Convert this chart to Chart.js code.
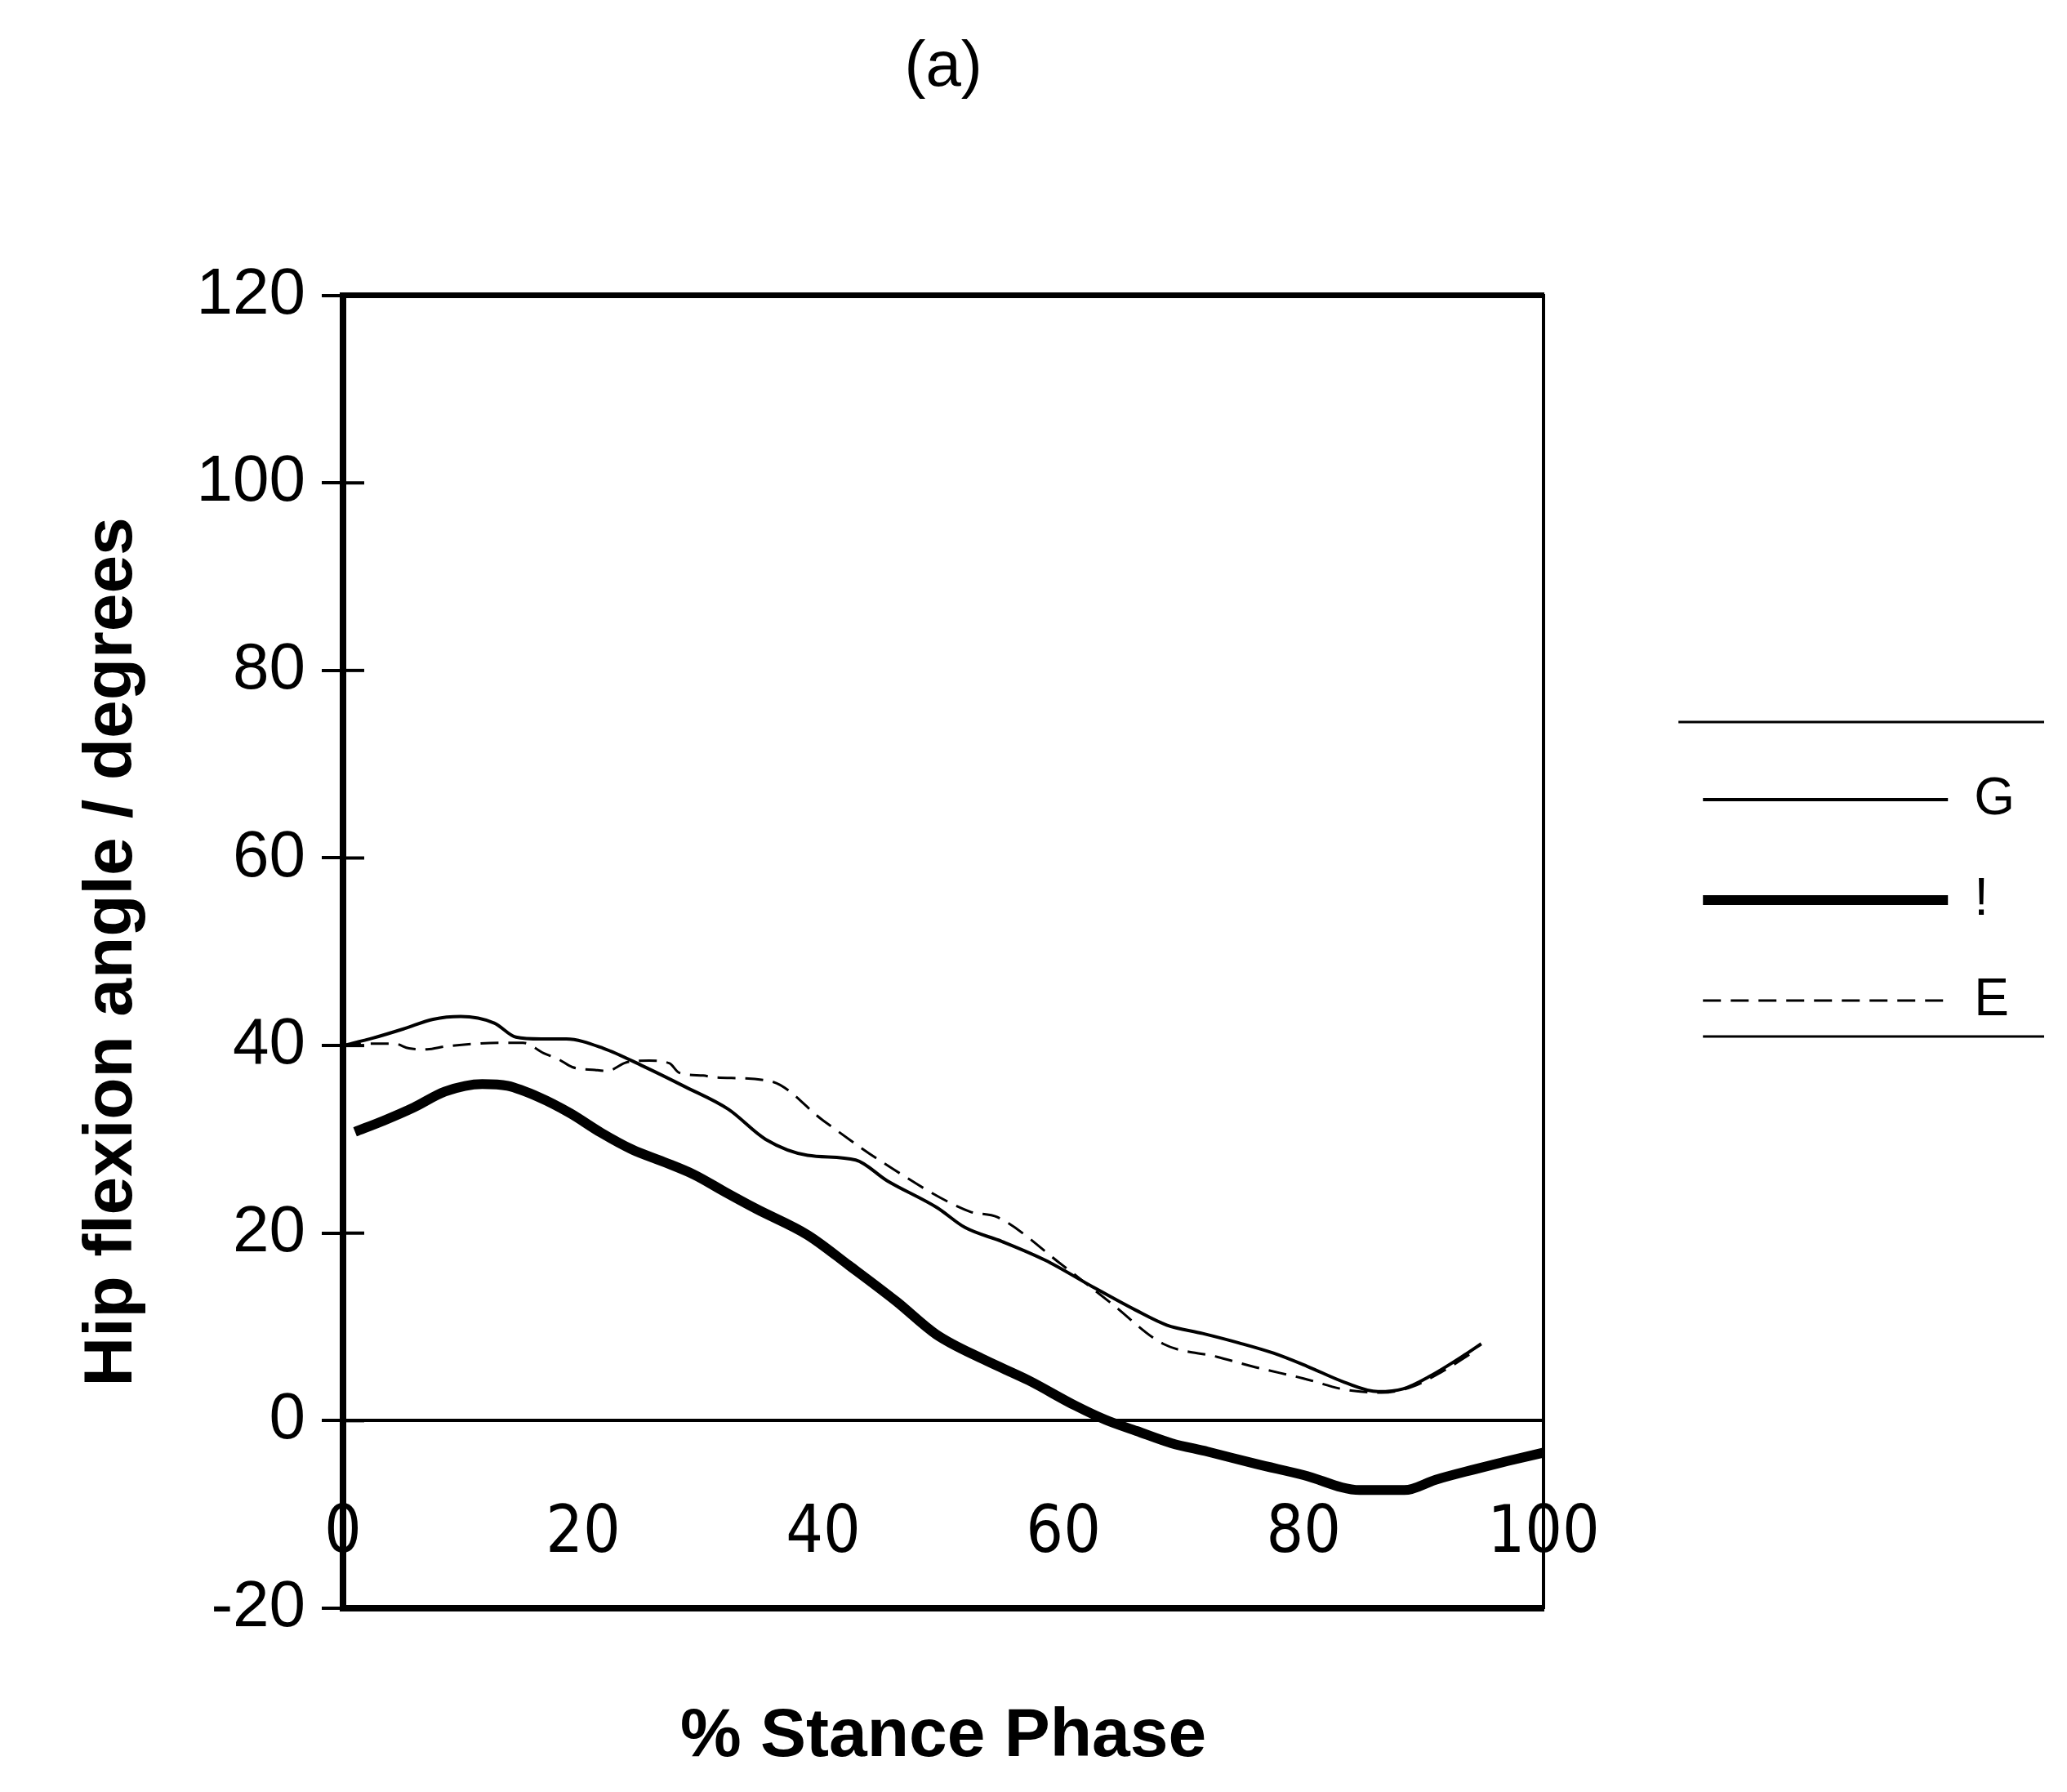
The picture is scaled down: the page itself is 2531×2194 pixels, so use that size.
<!DOCTYPE html>
<html>
<head>
<meta charset="utf-8">
<title>Hip flexion angle</title>
<script src="https://cdn.jsdelivr.net/npm/chart.js@4.4.1/dist/chart.umd.min.js"></script>
<style>
  html, body { margin: 0; padding: 0; background: #fff; }
  #wrap { width: 2531px; height: 2194px; }
</style>
</head>
<body>
<div id="wrap"><canvas id="hip"></canvas></div>
<script>
// hip flexion (degrees) against % stance phase, one x/y pair per trace
var thinX  = [0, 2.5, 5.1, 7.5, 9.8, 12.6, 14.4, 16.5, 18.6, 21.7, 25, 28.5, 32.1, 35.2, 38.7, 42.7, 45.3, 49.5, 51.8, 54.9, 58.5, 62.4, 66, 68.6, 71.6, 74.6, 77.5, 80.3, 83.4, 86.2, 88.3, 90.6, 93.4, 94.8];
var thinY  = [40, 40.8, 41.8, 42.8, 43.1, 42.4, 40.9, 40.7, 40.7, 39.7, 37.8, 35.6, 33.2, 30.0, 28.3, 27.8, 25.6, 22.7, 20.6, 19.1, 17.1, 14.3, 11.8, 10.2, 9.3, 8.3, 7.2, 5.8, 4.1, 3.1, 3.4, 4.8, 7.0, 8.2];

var thickX = [1, 3.4, 5.9, 8.5, 11.6, 13.7, 16.3, 18.9, 21.5, 24.1, 26.7, 29.3, 31.8, 34.4, 38.7, 42.2, 46.1, 49.4, 53.4, 57.1, 61, 63.5, 66.1, 69, 72, 76, 80, 84.7, 88.4, 91, 94.2, 97, 100];
var thickY = [30.8, 32.0, 33.4, 35.1, 35.9, 35.7, 34.5, 32.8, 30.7, 28.9, 27.6, 26.2, 24.4, 22.6, 19.8, 16.5, 12.7, 9.2, 6.5, 4.3, 1.6, 0.1, -1.1, -2.4, -3.3, -4.6, -5.8, -7.4, -7.4, -6.3, -5.2, -4.3, -3.4];

var dashX  = [0, 2, 4.3, 5.5, 7, 8.5, 11, 13, 15, 16.7, 18, 19.1, 21, 22, 23.6, 25.5, 27.2, 28, 30, 31, 35.6, 40, 45, 52.2, 54.5, 60, 64, 68.3, 72.8, 76, 80, 83.5, 86.5, 89, 91.5, 94];
var dashY  = [40, 40.2, 40.2, 39.7, 39.6, 39.9, 40.2, 40.3, 40.3, 39.2, 38.5, 37.7, 37.4, 37.3, 38.2, 38.4, 38.1, 37.1, 36.8, 36.6, 36.2, 32, 27.5, 22.3, 21.7, 16.5, 12.5, 8.2, 6.8, 5.7, 4.5, 3.3, 3.0, 3.6, 5.2, 7.2];

var seriesLabels = ['G', '!', 'E'];
var xTicks = [0, 20, 40, 60, 80, 100];
var yTicks = [-20, 0, 20, 40, 60, 80, 100, 120];

function points(xs, ys) {
  return xs.map(function (x, i) { return {x: x, y: ys[i]}; });
}

Chart.defaults.font.family = "'Liberation Sans', Arial, sans-serif";
Chart.defaults.color = '#000';

// short marks pointing into the plot at every inner y tick
var innerTicks = {
  id: 'innerTicks',
  afterDraw: function (chart) {
    var y = chart.scales.y, ctx = chart.ctx, left = chart.chartArea.left;
    ctx.save();
    ctx.strokeStyle = '#000';
    ctx.lineWidth = 4;
    y.ticks.forEach(function (t) {
      if (t.value <= y.min || t.value >= y.max) return;
      var py = y.getPixelForValue(t.value);
      ctx.beginPath();
      ctx.moveTo(left, py);
      ctx.lineTo(left + 26, py);
      ctx.stroke();
    });
    ctx.restore();
  }
};

// rules above and below the legend entries
var legendFrame = {
  id: 'legendFrame',
  afterDraw: function (chart) {
    var lg = chart.legend, boxes = lg && lg.legendHitBoxes;
    if (!boxes || !boxes.length) return;
    var first = boxes[0], last = boxes[boxes.length - 1];
    var x0 = first.left - 30, x1 = lg.right + 26;
    var top = first.top - 63, bottom = last.top + last.height + 12;
    var ctx = chart.ctx;
    ctx.save();
    ctx.strokeStyle = '#000';
    ctx.lineWidth = 3;
    ctx.beginPath();
    ctx.moveTo(x0, top); ctx.lineTo(x1, top);
    ctx.moveTo(x0 + 30, bottom); ctx.lineTo(x1, bottom);
    ctx.stroke();
    ctx.restore();
  }
};

new Chart(document.getElementById('hip'), {
  type: 'line',
  data: {
    datasets: [{
      label: seriesLabels[0],
      data: points(thinX, thinY),
      borderColor: '#000',
      backgroundColor: '#000',
      borderWidth: 4,
      pointRadius: 0,
      cubicInterpolationMode: 'monotone'
    }, {
      label: seriesLabels[1],
      data: points(thickX, thickY),
      borderColor: '#000',
      backgroundColor: '#000',
      borderWidth: 12,
      pointRadius: 0,
      cubicInterpolationMode: 'monotone'
    }, {
      label: seriesLabels[2],
      data: points(dashX, dashY),
      borderColor: '#000',
      backgroundColor: '#000',
      borderWidth: 3,
      borderDash: [22, 12],
      pointRadius: 0,
      cubicInterpolationMode: 'monotone'
    }]
  },
  options: {
    responsive: true,
    maintainAspectRatio: false,
    animation: false,
    devicePixelRatio: 1,
    layout: { padding: { left: 60, right: 54, top: 20, bottom: 10 } },
    plugins: {
      title: {
        display: true,
        text: '(a)',
        fullSize: false,
        color: '#000',
        font: { size: 78, weight: 'normal' },
        padding: { top: 17, bottom: 231 }
      },
      legend: {
        position: 'right',
        maxWidth: 700,
        labels: {
          usePointStyle: true,
          pointStyleWidth: 300,
          padding: 59,
          color: '#000',
          font: { size: 64 },
          generateLabels: function (chart) {
            return chart.data.datasets.map(function (ds, i) {
              return {
                text: ds.label,
                datasetIndex: i,
                pointStyle: 'line',
                strokeStyle: ds.borderColor,
                fillStyle: ds.borderColor,
                lineWidth: ds.borderWidth,
                lineDash: ds.borderDash || [],
                fontColor: '#000',
                hidden: false
              };
            });
          }
        }
      },
      tooltip: { enabled: false }
    },
    scales: {
      x: {
        type: 'linear',
        position: 'bottom',
        min: xTicks[0],
        max: xTicks[xTicks.length - 1],
        afterBuildTicks: function (s) { s.ticks = xTicks.map(function (v) { return {value: v}; }); },
        afterFit: function (s) { s.height = 215; },
        grid: { display: false, drawTicks: false },
        border: { display: true, color: '#000', width: 8 },
        // mirrored labels sit inside the plot, midway between 0 and -20
        ticks: {
          mirror: true,
          padding: 42,
          maxRotation: 0,
          autoSkip: false,
          color: '#000',
          font: { family: "'Liberation Sans Narrow', 'DejaVu Sans Condensed', 'Liberation Sans', sans-serif", size: 80 }
        },
        title: {
          display: true,
          text: '% Stance Phase',
          color: '#000',
          font: { size: 84, weight: 'bold' },
          padding: { top: 0, bottom: 7 }
        }
      },
      xTop: {
        type: 'linear',
        position: 'top',
        display: true,
        min: 0,
        max: 100,
        afterFit: function (s) { s.height = 0; },
        grid: { display: false, drawTicks: false },
        border: { display: true, color: '#000', width: 7 },
        ticks: { display: false }
      },
      y: {
        type: 'linear',
        position: 'left',
        min: yTicks[0],
        max: yTicks[yTicks.length - 1],
        afterBuildTicks: function (s) { s.ticks = yTicks.map(function (v) { return {value: v}; }); },
        afterFit: function (s) { s.width = 360; },
        grid: {
          drawOnChartArea: true,
          color: function (c) { return c.tick && c.tick.value === 0 ? '#000' : 'rgba(0,0,0,0)'; },
          lineWidth: 4,
          tickColor: '#000',
          tickWidth: 4,
          tickLength: 26
        },
        border: { display: true, color: '#000', width: 8 },
        ticks: {
          padding: 20,
          color: '#000',
          font: { size: 80 }
        },
        title: {
          display: true,
          text: 'Hip flexion angle / degrees',
          color: '#000',
          font: { size: 84, weight: 'bold' },
          padding: { top: 27, bottom: 0 }
        }
      },
      yRight: {
        type: 'linear',
        position: 'right',
        display: true,
        min: -20,
        max: 120,
        afterFit: function (s) { s.width = 136; },
        grid: { display: false, drawTicks: false },
        border: { display: true, color: '#000', width: 4 },
        ticks: { display: false }
      }
    }
  },
  plugins: [innerTicks, legendFrame]
});
</script>
</body>
</html>
